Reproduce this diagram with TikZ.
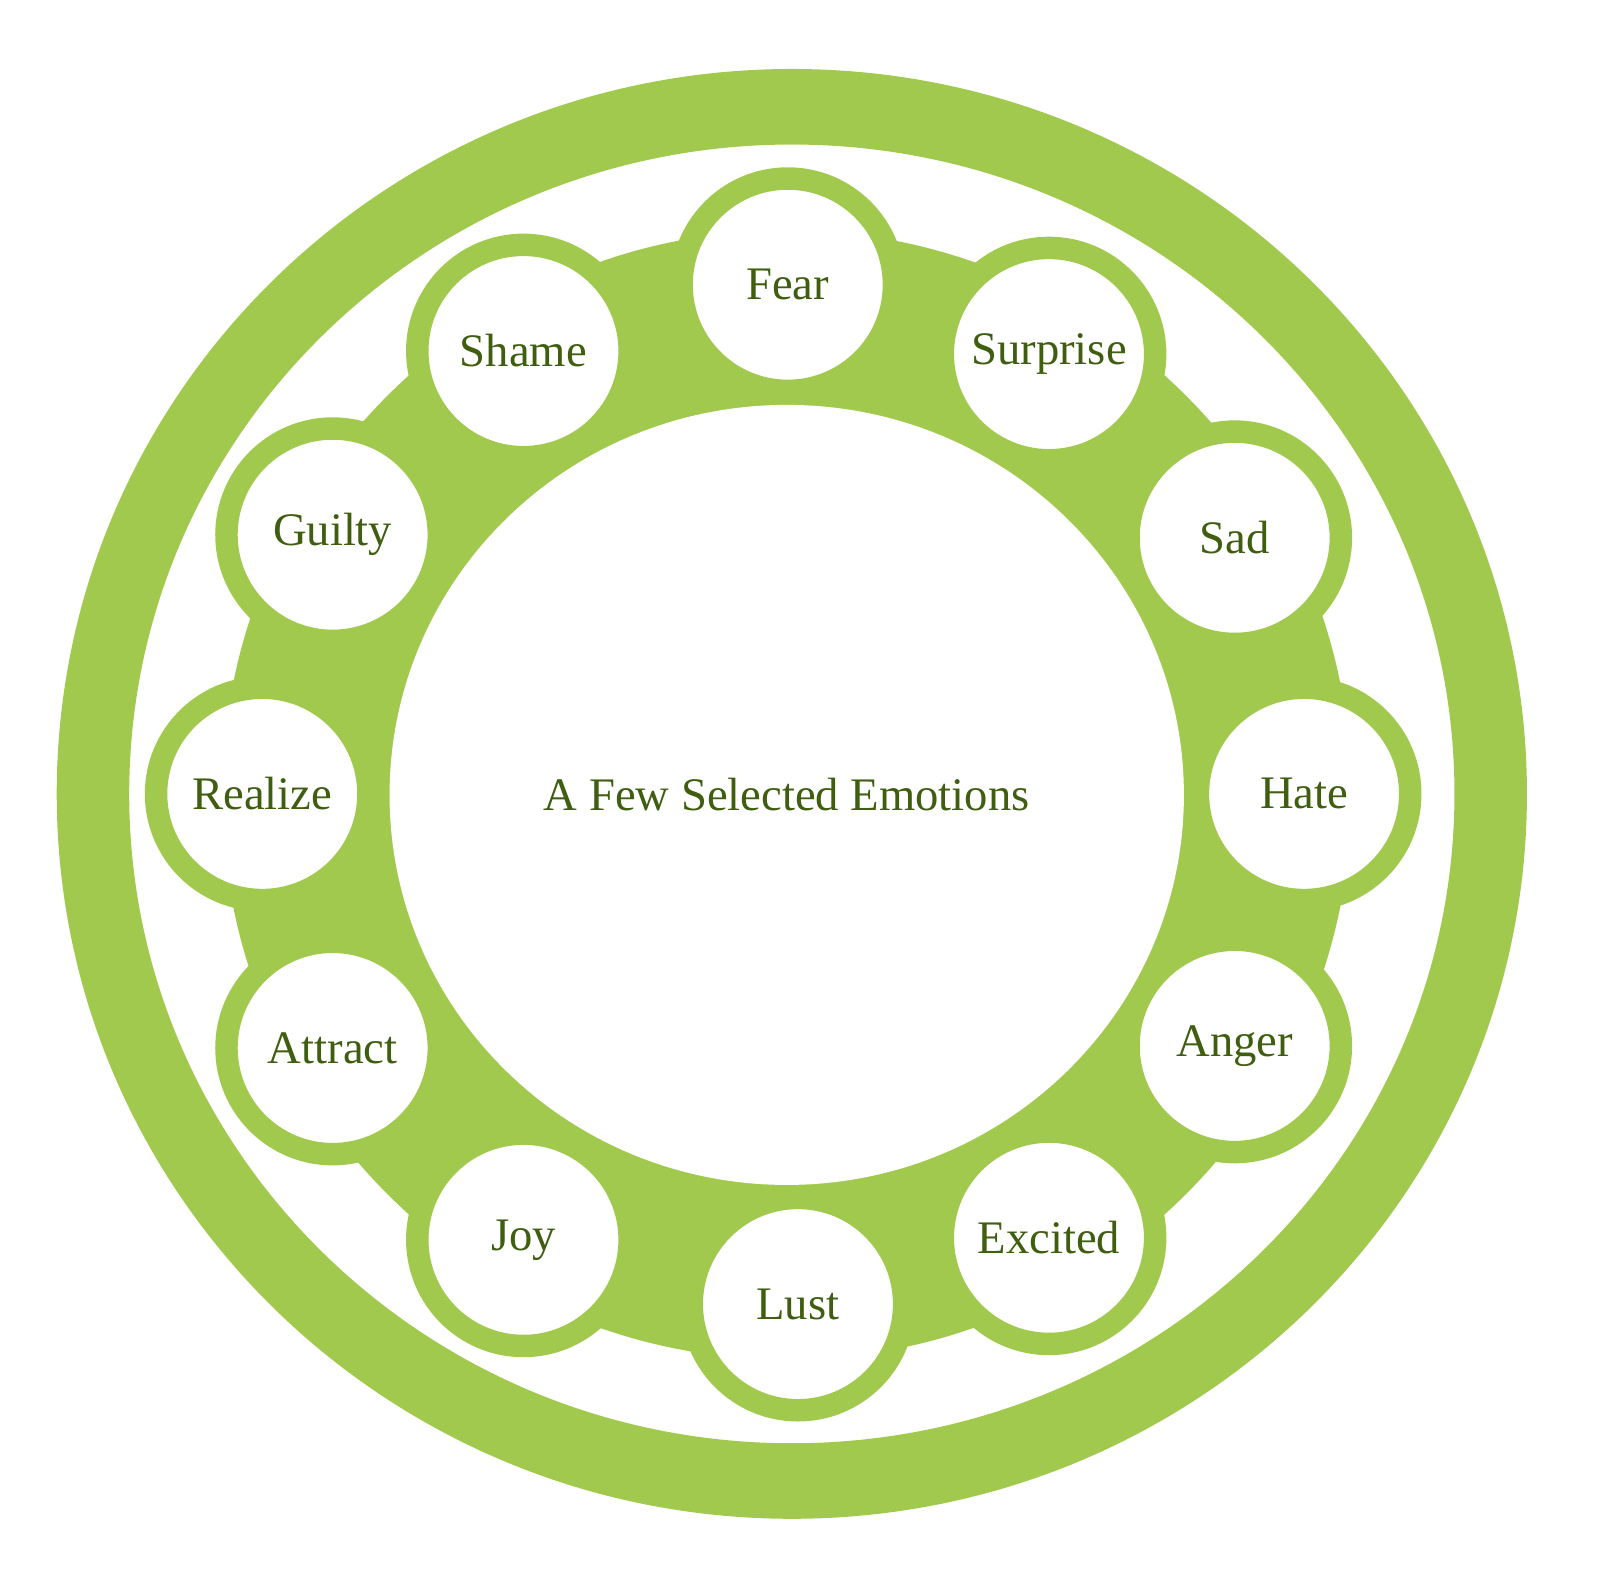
\documentclass[tikz,border=0pt]{standalone}
\usepackage{fontspec}
\setmainfont{Liberation Serif}
\usepackage{tikz}
\usetikzlibrary{shapes.geometric, positioning}
\definecolor{leaf}{HTML}{A1C94E}
\definecolor{moss}{HTML}{3F5E10}

\begin{document}
\begin{tikzpicture}[x=0.01cm, y=-0.01cm,
            emo/.style={circle, draw=leaf, line width=0.22cm, fill=white, minimum size=2.08cm, inner sep=0pt, text=moss, font=\fontsize{13}{15}\selectfont},
            core/.style={ellipse, fill=white, minimum width=7.78cm, minimum height=7.64cm, inner sep=0pt, text=moss, font=\fontsize{13}{15}\selectfont}]

            \useasboundingbox (0,0) rectangle (1568,1553);

            % outer ring and band
            \fill[leaf, even odd rule] (776,778) ellipse [x radius=7.2cm, y radius=7.1cm]
                (776,778) ellipse [x radius=6.49cm, y radius=6.36cm];
            \fill[leaf] (771,779) circle [radius=5.53cm];

            \node[core] (core) at (771,779) {A Few Selected Emotions};

            \node[emo] (fear) at (772,279) {Fear};
            \node[emo] (surprise) at (1028,347) {Surprise};
            \node[emo] (sad) at (1210,527) {Sad};
            \node[emo] (hate) at (1278,778) {Hate};
            \node[emo] (anger) at (1210,1025) {Anger};
            \node[emo] (excited) at (1028,1213) {Excited};
            \node[emo] (lust) at (782,1278) {Lust};
            \node[emo] (joy) at (513,1215) {Joy};
            \node[emo] (attract) at (326,1027) {Attract};
            \node[emo] (realize) at (257,778) {Realize};
            \node[emo] (guilty) at (326,524) {Guilty};
            \node[emo] (shame) at (513,344) {Shame};
        \end{tikzpicture}
\end{document}
